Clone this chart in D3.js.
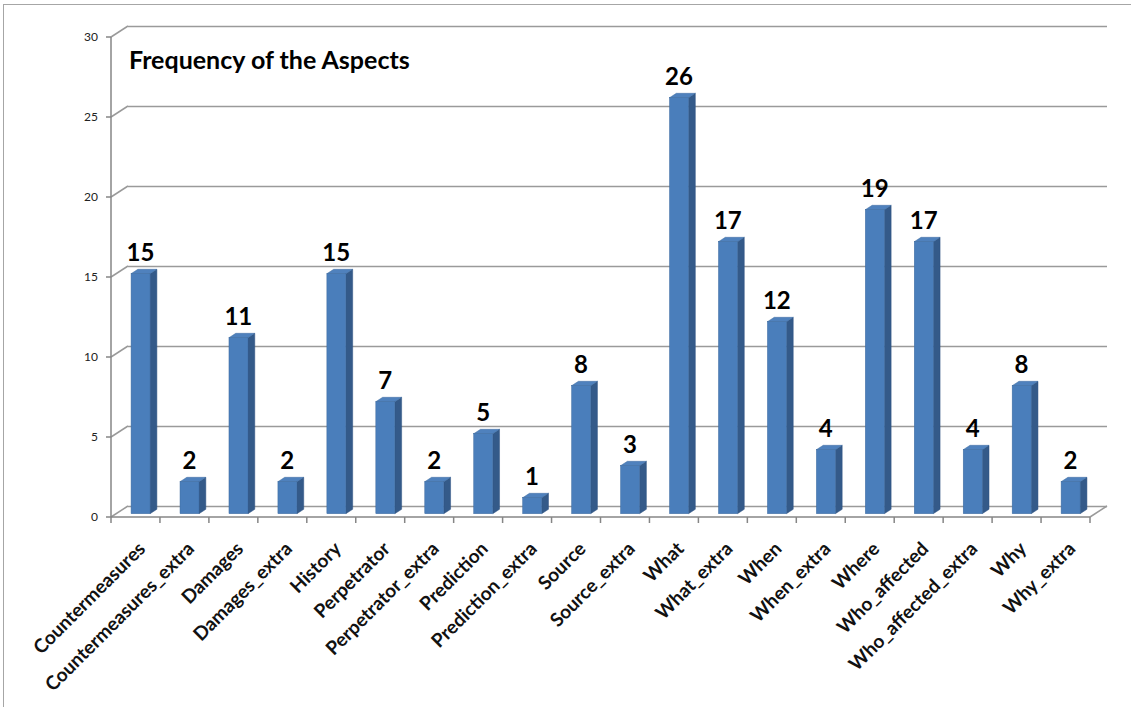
<!DOCTYPE html>
<html><head><meta charset="utf-8">
<script src="https://cdn.jsdelivr.net/npm/d3@7"></script>
<style>body{margin:0;background:#fff;} text{font-family:Lato,"Open Sans",sans-serif;}</style>
</head><body>
<svg id="c" width="1131" height="707"></svg>
<script>
const categories = ["Countermeasures","Countermeasures_extra","Damages","Damages_extra","History","Perpetrator","Perpetrator_extra","Prediction","Prediction_extra","Source","Source_extra","What","What_extra","When","When_extra","Where","Who_affected","Who_affected_extra","Why","Why_extra"];
const values = [15,2,11,2,15,7,2,5,1,8,3,26,17,12,4,19,17,4,8,2];
const yTicks = [0,5,10,15,20,25,30];
const title = "Frequency of the Aspects";

const svg = d3.select("#c");
const x0 = 111, x1 = 1090, yTop = 37, yBot = 517;
const DX = 17, DY = -11;
const x = d3.scaleBand().domain(categories).range([x0, x1]);
const y = d3.scaleLinear().domain([0, 30]).range([yBot, yTop]);

// chart frame
svg.append("rect").attr("x",3.5).attr("y",4.5).attr("width",1140).attr("height",720)
  .attr("fill","none").attr("stroke","#a6a6a6").attr("stroke-width",1);

const grid = svg.append("g");
yTicks.forEach(v => {
  const yy = y(v);
  grid.append("line").attr("x1",x0+DX).attr("x2",x1+DX).attr("y1",yy+DY+0.5).attr("y2",yy+DY+0.5)
    .attr("stroke","#9a9a9a").attr("stroke-width",1.5);
  grid.append("line").attr("x1",x0).attr("y1",yy).attr("x2",x0+DX).attr("y2",yy+DY)
    .attr("stroke","#9a9a9a").attr("stroke-width",1.5);
  grid.append("line").attr("x1",x0-5).attr("x2",x0).attr("y1",yy).attr("y2",yy)
    .attr("stroke","#868686").attr("stroke-width",1.5);
});
// floor right edge
grid.append("line").attr("x1",x1).attr("y1",yBot).attr("x2",x1+DX).attr("y2",yBot+DY)
  .attr("stroke","#9a9a9a").attr("stroke-width",1.5);
// axes
grid.append("line").attr("x1",x0).attr("x2",x0).attr("y1",yTop).attr("y2",yBot)
  .attr("stroke","#868686").attr("stroke-width",1.5);
grid.append("line").attr("x1",x0).attr("x2",x1).attr("y1",yBot).attr("y2",yBot)
  .attr("stroke","#868686").attr("stroke-width",1.5);
categories.concat([null]).forEach((c,i) => {
  const xx = c ? x(c) : x1;
  grid.append("line").attr("x1",xx).attr("x2",xx).attr("y1",yBot).attr("y2",yBot+6)
    .attr("stroke","#868686").attr("stroke-width",1.5);
});

// y tick labels
svg.append("g").selectAll("text").data(yTicks).join("text")
  .attr("x", 98).attr("y", d => y(d)).attr("dy","0.35em").attr("text-anchor","end")
  .attr("font-size", 12).attr("fill","#222").text(d => d);

// bars
const bw = x.bandwidth();
const fw = 19;
const f0 = 0.3, f1 = 0.7;
const bars = svg.append("g");
categories.forEach((c, i) => {
  const v = values[i];
  const cx = x(c) + bw/2;
  const fx = cx - fw/2 + DX*f0, fyB = y(0) + DY*f0, fyT = y(v) + DY*f0;
  const sdx = DX*(f1-f0), sdy = DY*(f1-f0);
  // side
  bars.append("path").attr("d",
    `M${fx+fw},${fyT} L${fx+fw+sdx},${fyT+sdy} L${fx+fw+sdx},${fyB+sdy} L${fx+fw},${fyB} Z`)
    .attr("fill","#345a89").attr("stroke","#2d5080").attr("stroke-width",0.5);
  // top
  bars.append("path").attr("d",
    `M${fx},${fyT} L${fx+sdx},${fyT+sdy} L${fx+fw+sdx},${fyT+sdy} L${fx+fw},${fyT} Z`)
    .attr("fill","#4f81bd").attr("stroke","#3d6a9f").attr("stroke-width",0.5);
  // front
  bars.append("rect").attr("x",fx).attr("y",fyT).attr("width",fw).attr("height",fyB-fyT)
    .attr("fill","#4a7ebb").attr("stroke","#3d6a9f").attr("stroke-width",0.5);
  // label
  bars.append("text").attr("x", cx + 5).attr("y", fyT - 13).attr("text-anchor","middle")
    .attr("font-size", 24).attr("font-weight","bold").attr("fill","#000").text(v);
});

// category labels
svg.append("g").selectAll("text").data(categories).join("text")
  .attr("transform", d => `translate(${x(d)+bw/2+11},${550}) rotate(-45)`)
  .attr("text-anchor","end").attr("font-size",19).attr("font-weight","bold").attr("fill","#111")
  .text(d => d);

// title
svg.append("text").attr("x",129).attr("y",69).attr("font-size",25).attr("font-weight","bold")
  .attr("fill","#000").text(title);
</script>
</body></html>
